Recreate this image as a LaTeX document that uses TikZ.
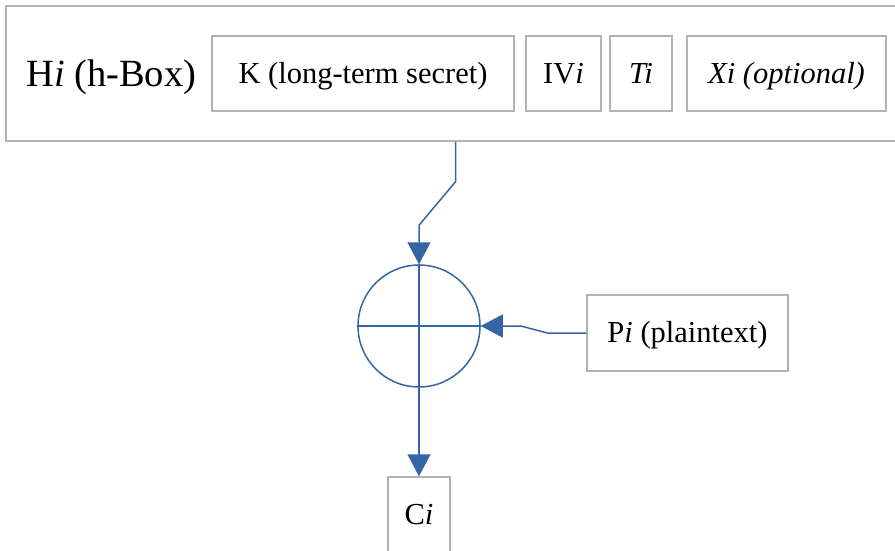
\documentclass[tikz,border=0pt]{standalone}
\usepackage{fontspec}
\setmainfont{Liberation Serif}
\usetikzlibrary{arrows.meta,positioning,calc}
\definecolor{XorBlue}{HTML}{3465A4}
\definecolor{FrameGray}{HTML}{B3B3B3}

\begin{document}
\begin{tikzpicture}[x=1pt,y=-1pt,>=Stealth,
  frame/.style={draw=FrameGray,line width=1.5pt,fill=white,inner sep=0pt,
    font=\fontsize{30.5}{36}\selectfont,minimum height=75pt,text depth=0pt,text height=21pt},
  title/.style={inner sep=0pt,font=\fontsize{38.5}{46}\selectfont},
  xorop/.style={circle,draw=XorBlue,line width=1.5pt,minimum size=122pt,inner sep=0pt},
  link/.style={-{Triangle[length=22pt,width=23pt]},line width=1.5pt,XorBlue}]
\useasboundingbox (0,0) rectangle (895,551);
\clip (0,0) rectangle (895,551);
% h-Box with its fields
\node[frame,minimum width=899pt,minimum height=135pt] (hbox) at (455.5,73.5) {};
\node[title,anchor=base west] (htitle) at (26,87) {H\textit{i} (h-Box)};
\node[frame,minimum width=302pt] (key) at (363,73.5) {K (long-term secret)};
\node[frame,minimum width=75pt] (iv) at (563.5,73.5) {IV\textit{i}};
\node[frame,minimum width=62pt] (ti) at (641,73.5) {\textit{Ti}};
\node[frame,minimum width=199pt] (xi) at (786.5,73.5) {\textit{Xi (optional)}};
% XOR with plaintext and ciphertext
\node[xorop] (xor) at (419,326) {};
\draw[XorBlue,line width=1.5pt] (xor.north)--(xor.south) (xor.west)--(xor.east);
\node[frame,minimum width=201pt,minimum height=76pt,text height=18pt] (plain) at (687.5,333) {P\textit{i} (plaintext)};
\node[frame,minimum width=62pt,minimum height=80pt,text height=14pt] (cipher) at (419,517) {C\textit{i}};
\draw[link] (hbox.south)--++(0,40)--([yshift=39pt]xor.north)--(xor.north);
\draw[link] (plain.west)--++(-39,0)--([xshift=40pt]xor.east)--(xor.east);
\draw[link] (xor.south)--(cipher.north);
\end{tikzpicture}
\end{document}
